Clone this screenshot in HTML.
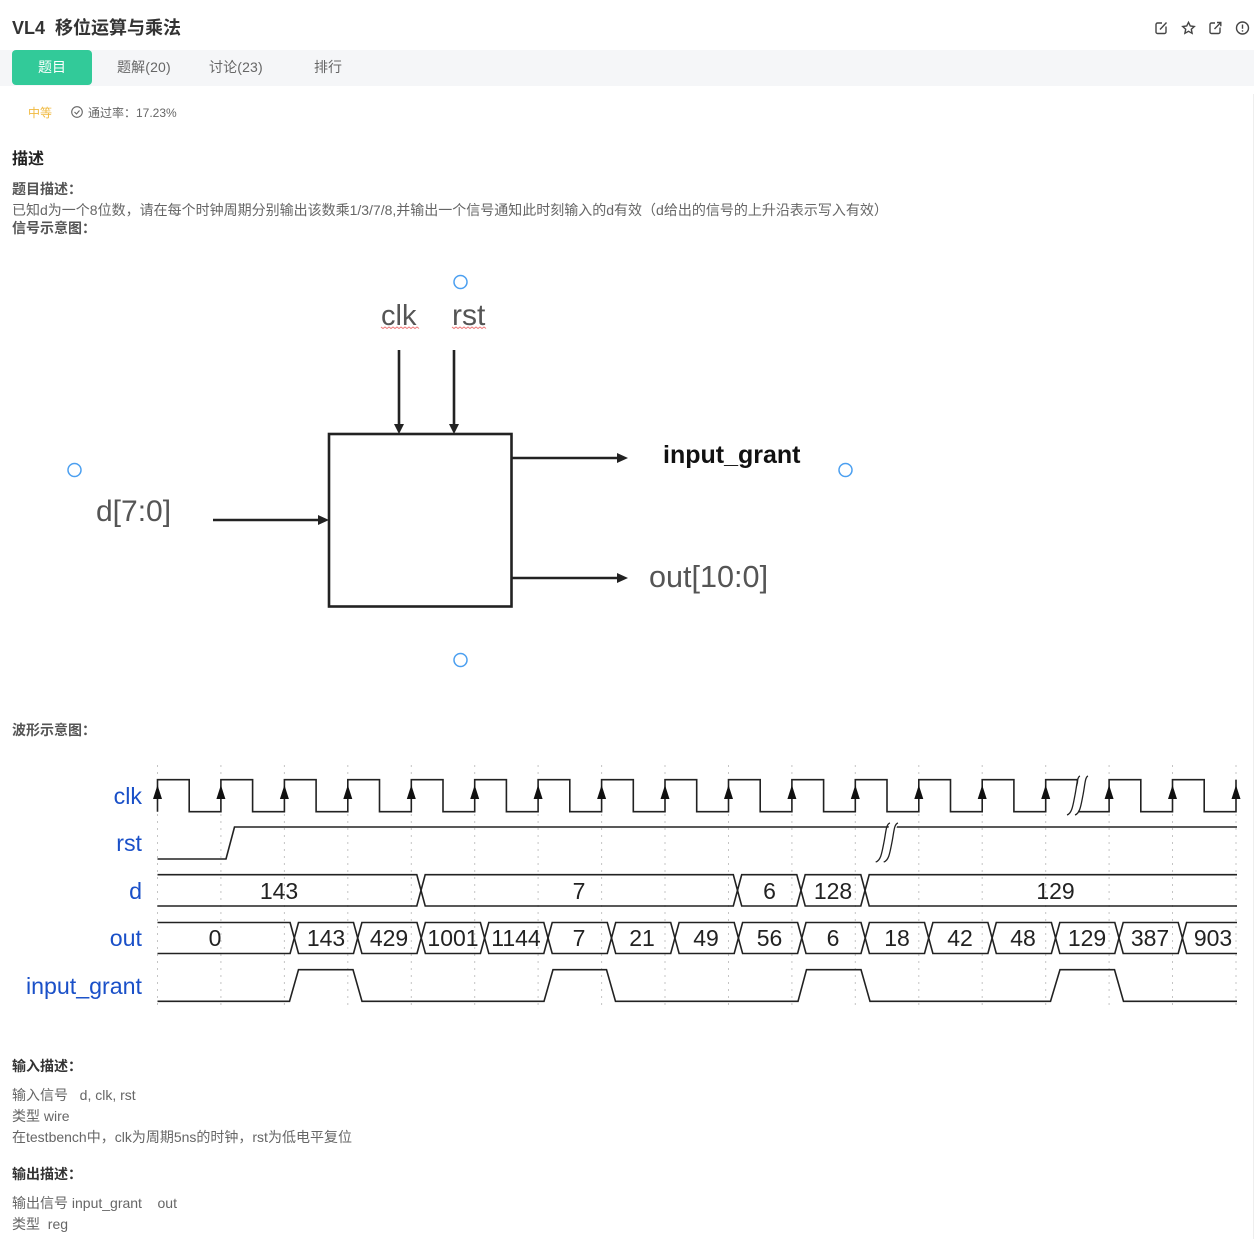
<!DOCTYPE html>
<html lang="zh">
<head>
<meta charset="utf-8">
<title>VL4 移位运算与乘法</title>
<style>
html,body{margin:0;padding:0;background:#fff}
body{width:1254px;height:1239px;position:relative;overflow:hidden;font-family:"Liberation Sans","Noto Sans CJK SC",sans-serif}
.t{position:absolute;white-space:pre;line-height:20px;font-size:14px;color:#666}
.b{font-weight:700;color:#555}
svg{position:absolute;left:0;top:0}
</style>
</head>
<body>
<div style="position:absolute;left:0;top:50px;width:1254px;height:36px;background:#f5f6f8"></div>
<div style="position:absolute;left:12px;top:50px;width:80px;height:35px;background:#32ca99;border-radius:4px"></div>
<div style="position:absolute;left:1253px;top:94px;width:1px;height:1145px;background:#eee"></div>

<div class="t" style="left:12px;top:18px;font-size:18px;font-weight:700;color:#333">VL4  移位运算与乘法</div>
<div class="t" style="left:38px;top:57px;font-size:14px;color:#fff">题目</div>
<div class="t" style="left:117px;top:57px;font-size:14px;letter-spacing:.15px">题解(20)</div>
<div class="t" style="left:209px;top:57px;font-size:14px;letter-spacing:.15px">讨论(23)</div>
<div class="t" style="left:314px;top:57px;font-size:14px">排行</div>
<div class="t" style="left:28px;top:103px;font-size:12px;color:#f0b93e">中等</div>
<div class="t" style="left:88px;top:103px;font-size:12px">通过率：17.23%</div>
<div class="t" style="left:12px;top:150px;font-size:16px;font-weight:700;color:#222">描述</div>
<div class="t b" style="left:12px;top:179px">题目描述：</div>
<div class="t" style="left:12px;top:200px">已知d为一个8位数，请在每个时钟周期分别输出该数乘1/3/7/8,并输出一个信号通知此时刻输入的d有效（d给出的信号的上升沿表示写入有效）</div>
<div class="t b" style="left:12px;top:218px">信号示意图：</div>
<div class="t b" style="left:12px;top:720px">波形示意图：</div>
<div class="t b" style="left:12px;top:1056px;color:#333">输入描述：</div>
<div class="t" style="left:12px;top:1085px">输入信号   d, clk, rst</div>
<div class="t" style="left:12px;top:1106px">类型 wire</div>
<div class="t" style="left:12px;top:1127px">在testbench中，clk为周期5ns的时钟，rst为低电平复位</div>
<div class="t b" style="left:12px;top:1164px;color:#333">输出描述：</div>
<div class="t" style="left:12px;top:1193px">输出信号 input_grant    out</div>
<div class="t" style="left:12px;top:1214px">类型  reg</div>

<svg width="1254" height="1239" viewBox="0 0 1254 1239" xmlns="http://www.w3.org/2000/svg" font-family="'Liberation Sans','Noto Sans CJK SC',sans-serif">
  <!-- toolbar icons -->
  <g fill="none" stroke="#444" stroke-width="1.4">
    <path d="M1166 26.5V32a1.5 1.5 0 0 1-1.5 1.5H1157.5A1.5 1.5 0 0 1 1156 32V24.5A1.5 1.5 0 0 1 1157.5 23H1162"/>
    <path d="M1160 29.5L1166.5 22.5"/>
    <path d="M1188.5 22.3l1.8 3.7 4 .5-3 2.8.8 4-3.6-2-3.6 2 .8-4-3-2.8 4-.5z"/>
    <path d="M1220 27.5V32a1.5 1.5 0 0 1-1.5 1.5H1211.5A1.5 1.5 0 0 1 1210 32V24.5A1.5 1.5 0 0 1 1211.5 23H1215"/>
    <path d="M1214.5 29L1220.5 22.8M1217 22.5H1220.8V26.3"/>
    <circle cx="1242.5" cy="28" r="6"/>
    <path d="M1242.5 24.5V28.8M1242.5 30.2V31.6"/>
    <circle cx="77" cy="112" r="5.3" stroke="#666" stroke-width="1.1"/>
    <path d="M74.5 112l2 2 3-3.5" stroke="#666" stroke-width="1.1"/>
  </g>

  <!-- block diagram -->
  <g fill="none" stroke="#222" stroke-width="2.6">
    <rect x="329" y="434" width="182.5" height="172.5"/>
    <path d="M399 350V424M454 350V424M511 458H618M511 578H618M213 520H320"/>
  </g>
  <g fill="#222">
    <path d="M394 424H404L399 434ZM449 424H459L454 434ZM617 453V463L628 458ZM617 573V583L628 578ZM318 515V525L329 520Z"/>
  </g>
  <g fill="#555" font-size="30">
    <text x="381" y="325" font-size="29">clk</text>
    <text x="452" y="325">rst</text>
    <text x="96" y="521">d[7:0]</text>
    <text x="649" y="587" font-size="30.6">out[10:0]</text>
  </g>
  <text x="663" y="463" font-size="25" font-weight="700" fill="#111">input_grant</text>
  <path d="M381 327l2 1.5 2-1.5 2 1.5 2-1.5 2 1.5 2-1.5 2 1.5 2-1.5 2 1.5 2-1.5 2 1.5 2-1.5 2 1.5 2-1.5 2 1.5 2-1.5 2 1.5 2-1.5 2 1.5M452 327l2 1.5 2-1.5 2 1.5 2-1.5 2 1.5 2-1.5 2 1.5 2-1.5 2 1.5 2-1.5 2 1.5 2-1.5 2 1.5 2-1.5 2 1.5 2-1.5 2 1.5" fill="none" stroke="#ee7777" stroke-width="1"/>
  <g fill="#fff" stroke="#4b9ff0" stroke-width="1.5">
    <circle cx="460.5" cy="282" r="6.5"/>
    <circle cx="74.5" cy="470" r="6.5"/>
    <circle cx="845.5" cy="470" r="6.5"/>
    <circle cx="460.5" cy="660" r="6.5"/>
  </g>

  <!-- waveform grid -->
  <path d="M157.5 765V1008M220.9 765V1008M284.4 765V1008M347.8 765V1008M411.3 765V1008M474.7 765V1008M538.1 765V1008M601.6 765V1008M665 765V1008M728.5 765V1008M791.9 765V1008M855.3 765V1008M918.8 765V1008M982.2 765V1008M1045.7 765V1008M1109.1 765V1008M1172.5 765V1008M1236 765V1008" fill="none" stroke="#c4c4c4" stroke-width="1" stroke-dasharray="2 5"/>

  <!-- waveforms -->
  <g fill="none" stroke="#222" stroke-width="1.6">
    <path d="M157.5 811.7V779.7H189.2V811.7H220.9V779.7H252.6V811.7H284.4V779.7H316.1V811.7H347.8V779.7H379.5V811.7H411.3V779.7H443V811.7H474.7V779.7H506.4V811.7H538.1V779.7H569.8V811.7H601.6V779.7H633.3V811.7H665V779.7H696.7V811.7H728.5V779.7H760.2V811.7H791.9V779.7H823.6V811.7H855.3V779.7H887V811.7H918.8V779.7H950.5V811.7H982.2V779.7H1013.9V811.7H1045.7V779.7H1077.4V811.7H1109.1V779.7H1140.8V811.7H1172.5V779.7H1204.2V811.7H1236V779.7"/>
    <path d="M157.5 859H226L234.5 827H1237"/>
    <path d="M157.5 874.7H416.8L425.2 906H733.3L741.7 874.7H796.8L805.2 906H860.8L869.2 874.7H1237"/>
    <path d="M157.5 906H416.8L425.2 874.7H733.3L741.7 906H796.8L805.2 874.7H860.8L869.2 906H1237"/>
    <path d="M157.5 922.5H290.1L298.5 953.5H353.5L361.9 922.5H417L425.4 953.5H480.4L488.8 922.5H543.8L552.2 953.5H607.3L615.7 922.5H670.7L679.1 953.5H734.2L742.6 922.5H797.6L806 953.5H861L869.4 922.5H924.5L932.9 953.5H987.9L996.3 922.5H1051.4L1059.8 953.5H1114.8L1123.2 922.5H1178.2L1186.6 953.5H1237"/>
    <path d="M157.5 953.5H290.1L298.5 922.5H353.5L361.9 953.5H417L425.4 922.5H480.4L488.8 953.5H543.8L552.2 922.5H607.3L615.7 953.5H670.7L679.1 922.5H734.2L742.6 953.5H797.6L806 922.5H861L869.4 953.5H924.5L932.9 922.5H987.9L996.3 953.5H1051.4L1059.8 922.5H1114.8L1123.2 953.5H1178.2L1186.6 922.5H1237"/>
    <path d="M157.5 1001.3H289.5L298.5 969.7H353L362 1001.3H544L553 969.7H606.5L615.5 1001.3H798L806.5 969.7H861L870 1001.3H1050.5L1060 969.7H1114.5L1123.5 1001.3H1237"/>
  </g>

  <!-- clock arrowheads -->
  <path d="M157.5 785l-4.5 14h9zM220.9 785l-4.5 14h9zM284.4 785l-4.5 14h9zM347.8 785l-4.5 14h9zM411.3 785l-4.5 14h9zM474.7 785l-4.5 14h9zM538.1 785l-4.5 14h9zM601.6 785l-4.5 14h9zM665 785l-4.5 14h9zM728.5 785l-4.5 14h9zM791.9 785l-4.5 14h9zM855.3 785l-4.5 14h9zM918.8 785l-4.5 14h9zM982.2 785l-4.5 14h9zM1045.7 785l-4.5 14h9zM1109.1 785l-4.5 14h9zM1172.5 785l-4.5 14h9zM1236 785l-4.5 14h9z" fill="#111"/>

  <!-- break marks -->
  <path d="M1069 815L1077 815L1088 776L1080 776Z" fill="#fff"/>
  <path d="M878 862L886 862L898 823L890 823Z" fill="#fff"/>
  <g fill="none" stroke="#222" stroke-width="1.3">
    <path d="M1067 815C1072 813.5 1073 805 1075 795C1077 785 1077 777 1080 776"/>
    <path d="M1075 815C1080 813.5 1081 805 1083 795C1085 785 1085 777 1088 776"/>
    <path d="M875.7 862C881 860.5 882 852 884 842C886 832 886 824 890 823"/>
    <path d="M883.7 862C889 860.5 890 852 892 842C894 832 894 824 898 823"/>
  </g>

  <!-- signal labels -->
  <g fill="#1a50c8" font-size="23.2" text-anchor="end">
    <text x="142" y="804">clk</text>
    <text x="142" y="851">rst</text>
    <text x="142" y="899">d</text>
    <text x="142" y="946">out</text>
    <text x="142" y="994">input_grant</text>
  </g>

  <!-- bus values -->
  <g fill="#222" font-size="23" text-anchor="middle">
    <text x="279" y="899">143</text>
    <text x="579" y="899">7</text>
    <text x="769.5" y="899">6</text>
    <text x="833" y="899">128</text>
    <text x="1055.5" y="899">129</text>
    <text x="215" y="946">0</text>
    <text x="326" y="946">143</text>
    <text x="389" y="946">429</text>
    <text x="453" y="946">1001</text>
    <text x="516" y="946">1144</text>
    <text x="579" y="946">7</text>
    <text x="642" y="946">21</text>
    <text x="706" y="946">49</text>
    <text x="769.5" y="946">56</text>
    <text x="833" y="946">6</text>
    <text x="897" y="946">18</text>
    <text x="960" y="946">42</text>
    <text x="1023" y="946">48</text>
    <text x="1087" y="946">129</text>
    <text x="1150" y="946">387</text>
    <text x="1213" y="946">903</text>
  </g>
</svg>
</body>
</html>
